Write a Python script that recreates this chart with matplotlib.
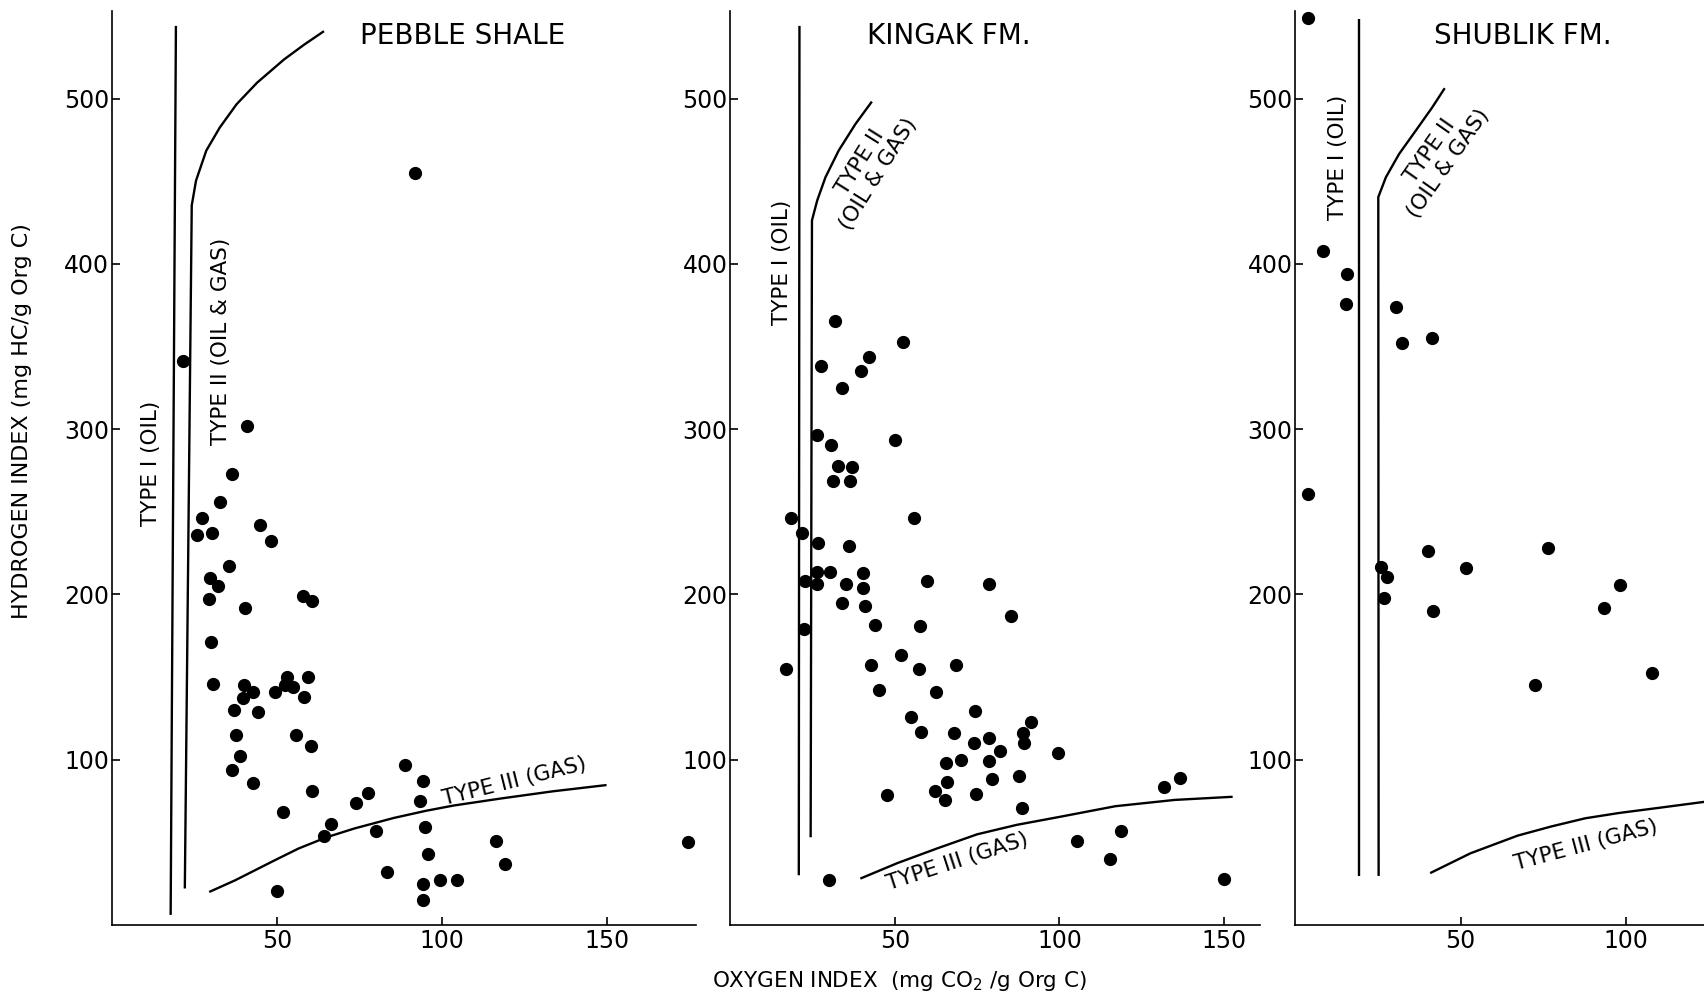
import numpy as np
import matplotlib.pyplot as plt

plt.rcParams['font.family'] = ['DejaVu Sans']

# Pebble Shale
ps_oi = [21.5, 41, 92, 36.5, 32.8, 27.3, 25.9, 30.2, 44.9, 48.3, 35.4, 29.6, 32.3, 29.4, 40.4, 57.8, 60.8,
         30.1, 30.5, 40, 53.1, 52.5, 54.8, 59.5, 49.6, 42.9, 39.6, 58.1, 36.9, 44.3, 37.7, 55.9, 60.5, 38.9,
         36.3, 42.9, 60.6, 52, 89, 94.3, 93.4, 77.8, 74, 66.3, 64.3, 80.2, 94.9, 95.7, 83.5, 94.2, 94.2,
         99.5, 104.5, 116.4, 119.3, 50.2, 174.8]
ps_hi = [341, 302, 455, 273, 256, 246, 236, 237, 242, 232, 217, 210, 205, 197, 192, 199, 196,
         171, 146, 145, 150, 145, 144, 150, 141, 141, 137, 138, 130, 129, 115, 115, 108, 102,
         94, 86, 81, 68, 97, 87, 75, 80, 74, 61, 54, 57, 59, 43, 32, 25, 15,
         27, 27, 51, 37, 20.5, 50]

# Kingak Fm.
kg_oi = [32.8, 37.1, 31.2, 36.4, 18.3, 21.9, 26.7, 35.9, 55.7, 30.4, 26.4, 22.8, 26.4, 35, 40.4, 40.4,
         34, 40.8, 59.8, 78.6, 85.2, 22.5, 44, 57.7, 16.9, 42.8, 51.7, 57.2, 68.7, 45.2, 62.5, 74.3,
         54.8, 91.4, 58, 68, 88.8, 78.6, 74, 89.2, 81.8, 99.5, 65.5, 70, 78.5, 65.9, 79.4, 87.6, 62.3,
         65.3, 74.7, 47.5, 88.6, 131.6, 136.6, 105.3, 118.8, 115.3, 150, 30.1, 31.9, 52.6, 42.2, 27.6,
         39.6, 34, 26.4, 50.1, 30.7]
kg_hi = [277.6, 277, 268.6, 268.6, 246, 237, 231, 229, 246, 213.6, 213.6, 208, 206, 206, 213, 204,
         195, 193, 208, 206, 187, 179, 181.5, 181, 154.6, 157, 163.5, 154.6, 157, 142, 141, 129.5,
         126, 122.7, 116.6, 116, 116, 113, 110, 110, 105, 104, 98, 100, 99, 86.6, 88, 90, 81,
         75.6, 79.4, 78.6, 70.7, 83.4, 88.7, 51, 56.5, 40, 28, 27, 365.7, 353, 343.4, 338.4,
         335, 324.8, 296.6, 293.5, 290.5]

# Shublik Fm.
sh_oi = [3.8, 8.5, 15.7, 15.3, 30.4, 32.4, 41.3, 3.7, 40.2, 76.5, 25.8, 51.8, 27.8, 26.9, 98.4, 41.6,
         93.4, 108, 72.6]
sh_hi = [549, 408, 393.6, 376, 374, 352, 355, 261, 226, 228, 216.7, 216, 210.6, 198, 205.5, 190,
         192, 152.6, 145]

# kerogen type boundaries
ps_t1_x = [17.8, 19.4]
ps_t1_y = [6, 544]
ps_t2_x = [22.1, 24.2, 25.5, 28.6, 32.7, 37.8, 44, 52.2, 58.4, 64.3]
ps_t2_y = [22, 435.4, 450.4, 468.5, 482.5, 496.6, 509.6, 523.7, 532.8, 540.8]
ps_t3_x = [29.5, 37.3, 49.4, 56.6, 65.1, 73.5, 85.5, 95.2, 103.6, 118.1, 133.7, 150]
ps_t3_y = [19.9, 26.9, 39.1, 46.2, 53, 58.3, 64.7, 69, 72.2, 76.5, 80.8, 84.6]

kg_t1_x = [20.8, 21]
kg_t1_y = [30, 544]
kg_t2_x = [24.4, 24.8, 26.4, 28.9, 32.9, 38, 43]
kg_t2_y = [53, 426.3, 438.4, 452.4, 468.5, 484.6, 498.2]
kg_t3_x = [39.5, 50.8, 62.9, 75, 87, 100.2, 117, 135, 152.6]
kg_t3_y = [28, 37.4, 46.3, 54.8, 60.5, 65.4, 71.8, 75.6, 77.5]

sh_t1_x = [19.4, 19.4]
sh_t1_y = [29.6, 548]
sh_t2_x = [25.2, 25.1, 27.4, 31.4, 36.4, 41.4, 45.2]
sh_t2_y = [29.6, 440.4, 452.4, 466.5, 480.5, 494.6, 506.3]
sh_t3_x = [40.8, 53, 67.3, 77.6, 87.8, 98, 110, 123.7, 135]
sh_t3_y = [31.3, 43.3, 54, 59.6, 64.5, 67.7, 70.8, 74.4, 77]

yticks = [100, 200, 300, 400, 500]


def panel(ax, oi, hi, t1, t2, t3, xmax, xticks, title, title_x, labels):
    ax.set_xlim(0, xmax)
    ax.set_ylim(0, 553)
    for (lx, ly) in (t1, t2, t3):
        ax.plot(lx, ly, color='black', lw=1.7, solid_capstyle='butt', solid_joinstyle='round')
    ax.plot(oi, hi, 'o', color='black', ms=8.5, clip_on=False)
    ax.spines['top'].set_visible(False)
    ax.spines['right'].set_visible(False)
    ax.spines['left'].set_linewidth(1.2)
    ax.spines['bottom'].set_linewidth(1.2)
    ax.set_xticks(xticks)
    ax.set_yticks(yticks)
    ax.tick_params(direction='in', length=6, width=1.2, labelsize=17)
    ax.tick_params(axis='y', pad=2)
    ax.tick_params(axis='x', pad=3)
    ax.text(title_x, 538, title, fontsize=20, ha='center', va='center')
    for (tx, ty, s, rot) in labels:
        ax.text(tx, ty, s, rotation=rot, fontsize=15.5, ha='center', va='center',
                linespacing=1.1, rotation_mode='anchor')


fig = plt.figure(figsize=(17.04, 10.02), dpi=100)
ax1 = fig.add_axes([0.0657, 0.077, 0.3425, 0.912])
ax2 = fig.add_axes([0.4286, 0.077, 0.311, 0.912])
ax3 = fig.add_axes([0.7602, 0.077, 0.2398, 0.912])

panel(ax1, ps_oi, ps_hi, (ps_t1_x, ps_t1_y), (ps_t2_x, ps_t2_y), (ps_t3_x, ps_t3_y),
      177, [50, 100, 150], 'PEBBLE SHALE', 106.5,
      [(11.7, 279, 'TYPE I (OIL)', 90),
       (33, 353, 'TYPE II (OIL & GAS)', 90),
       (122, 87, 'TYPE III (GAS)', 14)])
panel(ax2, kg_oi, kg_hi, (kg_t1_x, kg_t1_y), (kg_t2_x, kg_t2_y), (kg_t3_x, kg_t3_y),
      161, [50, 100, 150], 'KINGAK FM.', 66.3,
      [(15.8, 401, 'TYPE I (OIL)', 90),
       (42.2, 458, 'TYPE II\n(OIL & GAS)', 58),
       (69, 38, 'TYPE III (GAS)', 18)])
panel(ax3, sh_oi, sh_hi, (sh_t1_x, sh_t1_y), (sh_t2_x, sh_t2_y), (sh_t3_x, sh_t3_y),
      123.7, [50, 100], 'SHUBLIK FM.', 69,
      [(13, 464.5, 'TYPE I (OIL)', 90),
       (43.5, 464.5, 'TYPE II\n(OIL & GAS)', 55),
       (88, 48, 'TYPE III (GAS)', 15)])

fig.text(0.0128, 0.58, 'HYDROGEN INDEX (mg HC/g Org C)', rotation=90, fontsize=16,
         ha='center', va='center')
fig.text(0.5276, 0.021, 'OXYGEN INDEX  (mg CO$_2$ /g Org C)', fontsize=15.5,
         ha='center', va='center')

fig.savefig('out.png', dpi=100)
